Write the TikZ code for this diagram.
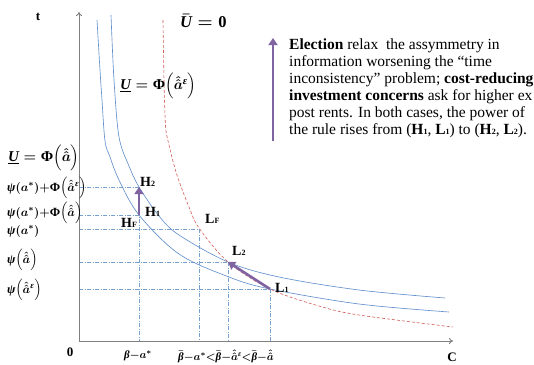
\documentclass[tikz,border=0pt]{standalone}
\usepackage{amsmath}
\usepackage{fontspec}
\setmainfont{Liberation Serif}
\usetikzlibrary{arrows.meta}
\definecolor{curveblue}{RGB}{100,145,205}
\definecolor{gridblue}{RGB}{120,160,205}
\definecolor{curvered}{RGB}{210,90,85}
\definecolor{arrowpurple}{RGB}{128,100,162}
\definecolor{axisgray}{RGB}{128,128,128}
\newcommand\dig[1]{{\fontsize{8}{8}\selectfont #1}}
\newcommand\bit[1]{\text{\bfseries\itshape #1}}
\newcommand\bup[1]{\text{\bfseries #1}}
\newcommand\ba{a}
\newcommand\hh{\hat{\hat{a}}}
\newcommand\eps{\bit{ε}}
\newcommand\bpsi{\bit{ψ}}
\newcommand\bPhi{\bup{Φ}}
\newcommand\bbeta{\bit{β}}
\newcommand\bU{\bit{U}}
\newcommand\pr[1]{{\left(#1\right)}}
\tikzset{
  axisline/.style={draw=axisgray, line width=0.9pt, -{To[length=4pt,width=6pt]}},
  bluecurve/.style={draw=curveblue, line width=0.65pt},
  redcurve/.style={draw=curvered, line width=0.6pt, dash pattern=on 3pt off 2pt},
  gridline/.style={draw=gridblue, line width=0.5pt, dash pattern=on 4pt off 1.5pt on 1pt off 1.5pt},
  bigarrow/.style={draw=arrowpurple, line width=2.6pt, -{Triangle[length=7pt,width=9pt]}},
  ptlbl/.style={font=\fontsize{14}{15}\selectfont\bfseries, inner sep=0pt},
  mathlbl/.style={font=\fontsize{12.5}{14}\selectfont\boldmath, inner sep=0pt},
  biglbl/.style={font=\fontsize{15}{17}\selectfont\boldmath, inner sep=0pt},
  axlbl/.style={font=\fontsize{13}{14}\selectfont\bfseries, inner sep=0pt},
}
\begin{document}
\begin{tikzpicture}[x=1pt,y=-1pt]
\useasboundingbox (0,0) rectangle (534,364);
% key points
\coordinate (O) at (79,341);
\coordinate (ytip) at (79,12);
\coordinate (xtip) at (453,341);
\coordinate (H2) at (139,187);
\coordinate (H1) at (139,215);
\coordinate (HF) at (139,229);
\coordinate (LF) at (199,229);
\coordinate (L2) at (228,262);
\coordinate (L1) at (270,289);
\coordinate (xH) at (139,341);
\coordinate (xLF) at (199,341);
\coordinate (xL2) at (228,341);
\coordinate (xL1) at (270,341);
\coordinate (yH2) at (79,187);
\coordinate (yH1) at (79,215);
\coordinate (yHF) at (79,229);
\coordinate (yL2) at (79,262);
\coordinate (yL1) at (79,289);
% grid lines
\draw[gridline] (yH2) -- (H2);
\draw[gridline] (yH1) -- (H1);
\draw[gridline] (yHF) -- (LF);
\draw[gridline] (yL2) -- (L2);
\draw[gridline] (yL1) -- (L1);
\draw[gridline] (H2) -- (xH);
\draw[gridline] (LF) -- (xLF);
\draw[gridline] (L2) -- (xL2);
\draw[gridline] (L1) -- (xL1);
% axes
\draw[axisline] (O) -- (ytip);
\draw[axisline] (O) -- (xtip);
% curves
\draw[bluecurve] plot[smooth, tension=0.55] coordinates {(97,20) (100,70) (102,100) (105,141) (110,157) (119,180) (139,215) (179,254) (229,277) (270,289) (359,304) (449,312)};
\draw[bluecurve] plot[smooth, tension=0.55] coordinates {(111,15) (114,80) (119,137) (129,166) (139,187) (159,216) (179,235) (228,262) (279,277) (359,290) (445,298)};
\draw[redcurve] plot[smooth, tension=0.55] coordinates {(163,20) (164,80) (165,115) (166,131) (169,145) (174,165) (179,181) (189,207) (199,228) (228,262) (270,289) (319,306) (359,315) (453,327)};
% arrows
\draw[bigarrow] (H1) -- (H2);
\draw[bigarrow] (L1) -- (L2);
\coordinate (tA) at (273,141);
\coordinate (tB) at (273,38);
\draw[bigarrow] (tA) -- (tB);
% point labels
\node[ptlbl, anchor=west] (lH2) at (140,182) {H\dig{2}};
\node[ptlbl, anchor=west] (lH1) at (145,212) {H\dig{1}};
\node[ptlbl, anchor=west] (lHF) at (121,223) {H\dig{F}};
\node[ptlbl, anchor=west] (lLF) at (205,219) {L\dig{F}};
\node[ptlbl, anchor=west] (lL2) at (232,251) {L\dig{2}};
\node[ptlbl, anchor=west] (lL1) at (275,288) {L\dig{1}};
% axis labels
\node[axlbl] (lt) at (38,17) {t};
\node[axlbl] (l0) at (70,352) {0};
\node[axlbl] (lC) at (452,357) {C};
% curve labels
\node[biglbl, font=\fontsize{16.5}{18}\selectfont\boldmath, anchor=west] (uzero) at (180,21) {$\bar{\bU}=\bup{0}$};
\node[biglbl, anchor=west] (ueps) at (120,86) {$\underline{\bU}=\bPhi\pr{\hh^{\eps}}$};
\node[biglbl, anchor=west] (uhat) at (8,158) {$\underline{\bU}=\bPhi\pr{\hh}$};
% y labels
\node[mathlbl, anchor=west] (y1) at (7,188) {$\bpsi\pr{\ba^{*}}{+}\bPhi\pr{\hh^{\eps}}$};
\node[mathlbl, anchor=west] (y2) at (7,213) {$\bpsi\pr{\ba^{*}}{+}\bPhi\pr{\hh}$};
\node[mathlbl, anchor=west] (y3) at (7,231) {$\bpsi\pr{\ba^{*}}$};
\node[mathlbl, anchor=west] (y4) at (7,260) {$\bpsi\pr{\hh}$};
\node[mathlbl, anchor=west] (y5) at (7,290) {$\bpsi\pr{\hh^{\eps}}$};
% x labels
\node[mathlbl, font=\fontsize{11}{12}\selectfont\boldmath] (x1) at (138,356) {$\bbeta{-}\ba^{*}$};
\node[mathlbl, font=\fontsize{11}{12}\selectfont\boldmath] (x2) at (226,356) {$\bar{\bbeta}{-}\ba^{*}{<}\bar{\bbeta}{-}\hh^{\eps}{<}\bar{\bbeta}{-}\hh$};
% text block
\node[anchor=north west, inner sep=0pt, align=left, font=\fontsize{15.5}{17}\selectfont] (txt) at (289,39) {%
\textbf{Election} relax\ \ the assymmetry in\\
information worsening the “time\\
inconsistency” problem; \textbf{cost-reducing}\\
\textbf{investment concerns} ask for higher ex\\
post rents. In both cases, the power of\\
the rule rises from (\textbf{H\dig{1}}, \textbf{L\dig{1}}) to (\textbf{H\dig{2}}, \textbf{L\dig{2}}).};
\end{tikzpicture}
\end{document}
